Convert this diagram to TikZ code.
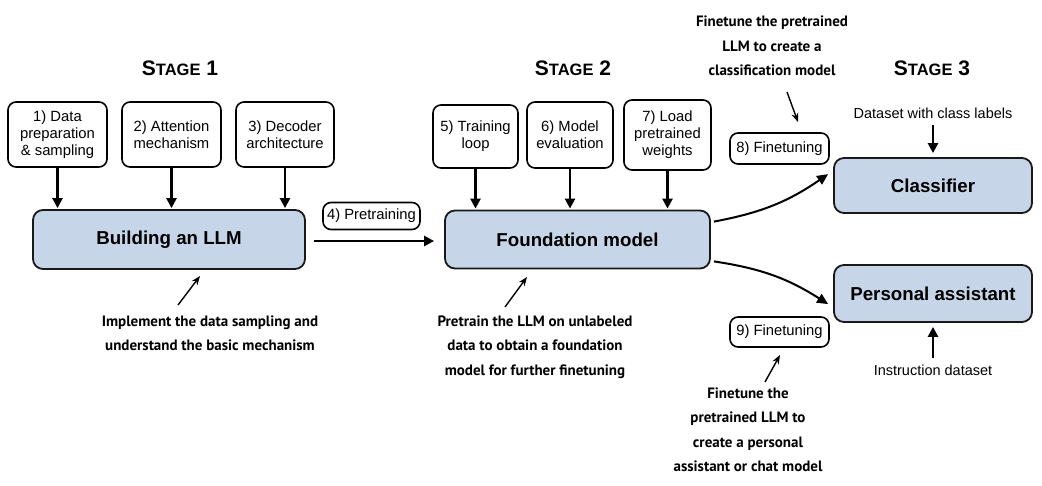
\documentclass[tikz,border=0pt]{standalone}
\usepackage{fontspec}
\setmainfont{Liberation Sans}
\newfontfamily\annfont{PT Sans}
\usetikzlibrary{arrows.meta,calc}
\definecolor{boxblue}{RGB}{198,214,232}
\newcommand\stagetitle[1]{{\bfseries\fontsize{21}{21}\selectfont S\fontsize{16.5}{16.5}\selectfont TAGE\fontsize{21}{21}\selectfont\ #1}}
\begin{document}
\begin{tikzpicture}[x=1pt,y=-1pt,
  smallbox/.style={draw=black, line width=1.6pt, rounded corners=8pt, fill=white, align=center,
    font=\fontsize{14.8}{17}\selectfont, inner sep=0pt},
  bigbox/.style={draw=black!90, line width=1.8pt, rounded corners=10pt, fill=boxblue,
    font=\fontsize{18.7}{22}\selectfont\bfseries, inner sep=0pt},
  ann/.style={align=center, font=\annfont\bfseries\fontsize{15}{24.5}\selectfont},
  plaintext/.style={font=\fontsize{14.5}{17}\selectfont},
  arr/.style={line width=2.4pt, -{Triangle[length=10pt,width=10pt]}},
  curvearr/.style={line width=2pt, -{Triangle[length=11pt,width=10pt]}},
  thinarr/.style={line width=1.4pt, -{Stealth[length=9pt,width=7pt]}}
]
\path[use as bounding box] (0,0) rectangle (1042,485);

% titles
\node (t1) at (180,68) {\stagetitle{1}};
\node (t2) at (573,68) {\stagetitle{2}};
\node (t3) at (932,68) {\stagetitle{3}};

% stage 1
\node[smallbox, minimum width=99pt, minimum height=65pt] (b1) at (57.5,134.5) {1) Data\\preparation\\\& sampling};
\node[smallbox, minimum width=99pt, minimum height=65pt] (b2) at (171.5,134.5) {2) Attention\\mechanism};
\node[smallbox, minimum width=98pt, minimum height=65pt] (b3) at (285,134.5) {3) Decoder\\architecture};
\node[bigbox, minimum width=272pt, minimum height=59pt] (llm) at (169,239.5) {Building an LLM};
\draw[arr, shorten >=1pt] (b1) -- (b1 |- llm.north);
\draw[arr, shorten >=1pt] (b2) -- (b2 |- llm.north);
\draw[arr, shorten >=1pt] (b3) -- (b3 |- llm.north);

% pretraining
\node[smallbox, minimum width=97pt, minimum height=27pt] (p4) at (371.5,216) {4) Pretraining};
\node[bigbox, minimum width=265pt, minimum height=58pt] (found) at (577.5,239.5) {Foundation model};
\draw[arr, shorten <=8pt, shorten >=10pt] (llm.east |- 0,241) -- (found.west |- 0,241);

% stage 2
\node[smallbox, minimum width=85pt, minimum height=63pt] (b5) at (475.5,136.5) {5) Training\\loop};
\node[smallbox, minimum width=86pt, minimum height=66pt] (b6) at (570,135) {6) Model\\evaluation};
\node[smallbox, minimum width=87pt, minimum height=70pt] (b7) at (667.5,135) {7) Load\\pretrained\\weights};
\draw[arr, shorten >=1pt] (b5) -- (b5 |- found.north);
\draw[arr, shorten >=1pt] (b6) -- (b6 |- found.north);
\draw[arr, shorten >=1pt] (b7) -- (b7 |- found.north);

% annotations stage 1 / 2
\node[ann] (a1) at (210,333.5) {Implement the data sampling and\\understand the basic mechanism};
\coordinate (a1s) at (178,305);
\coordinate (a1e) at (200,276);
\draw[thinarr] (a1s) -- (a1e);
\node[ann] (a2) at (535,347) {Pretrain the LLM on unlabeled\\data to obtain a foundation\\model for further finetuning};
\coordinate (a2s) at (505,307);
\coordinate (a2e) at (527,277);
\draw[thinarr] (a2s) -- (a2e);

% stage 3
\node[bigbox, minimum width=198pt, minimum height=55pt] (cls) at (933,185.5) {Classifier};
\node[bigbox, minimum width=198pt, minimum height=57pt] (pa) at (933,293.5) {Personal assistant};
\node[plaintext] (dsl) at (933,113) {Dataset with class labels};
\node[plaintext] (ins) at (933,370) {Instruction dataset};
\draw[arr, shorten <=3pt, shorten >=4pt] (dsl) -- (cls);
\draw[arr, shorten <=3pt, shorten >=4pt] (ins) -- (pa);

\node[smallbox, minimum width=99pt, minimum height=31pt] (f8) at (779.5,148.5) {8) Finetuning};
\node[smallbox, minimum width=99pt, minimum height=30pt] (f9) at (779.5,332) {9) Finetuning};

\node[ann] (a8) at (772,46) {Finetune the pretrained\\LLM to create a\\classification model};
\coordinate (a8s) at (787,92);
\coordinate (a8e) at (798,122);
\draw[thinarr] (a8s) -- (a8e);
\node[ann] (a9) at (748,430) {Finetune the\\pretrained LLM to\\create a personal\\assistant or chat model};
\coordinate (a9s) at (765,382);
\coordinate (a9e) at (780,355);
\draw[thinarr] (a9s) -- (a9e);

% curved connectors
\draw[curvearr] ([shift={(3,12)}]found.north east) to[bend right=12] ([shift={(-5,17)}]cls.north west);
\draw[curvearr] ([shift={(3,-8)}]found.south east) to[bend left=12] ([shift={(-5,40)}]pa.north west);
\end{tikzpicture}
\end{document}
